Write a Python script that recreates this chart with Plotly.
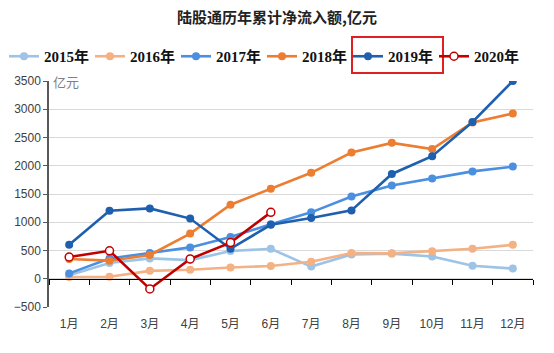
import plotly.graph_objects as go

months = ["1月", "2月", "3月", "4月", "5月", "6月", "7月", "8月", "9月", "10月", "11月", "12月"]
y2015 = [60, 280, 360, 330, 490, 530, 215, 430, 445, 395, 230, 180]
y2016 = [30, 35, 140, 160, 200, 225, 300, 455, 450, 485, 530, 600]
y2017 = [95, 360, 455, 555, 740, 965, 1175, 1455, 1650, 1775, 1900, 1985]
y2018 = [350, 320, 420, 800, 1310, 1595, 1875, 2235, 2405, 2295, 2765, 2925]
y2019 = [600, 1205, 1245, 1065, 530, 955, 1075, 1210, 1855, 2170, 2775, 3500]
y2020 = [385, 495, -180, 350, 640, 1175]

series = [
    ("2015年", y2015, "#9DC3E6"),
    ("2016年", y2016, "#F4B183"),
    ("2017年", y2017, "#4A8FE0"),
    ("2018年", y2018, "#ED7D31"),
    ("2019年", y2019, "#1E5FAE"),
]

fig = go.Figure()
for name, vals, col in series:
    fig.add_trace(go.Scatter(
        x=months[:len(vals)], y=vals, name=name, mode="lines+markers",
        line=dict(color=col, width=2.6),
        marker=dict(color=col, size=8),
    ))
fig.add_trace(go.Scatter(
    x=months[:len(y2020)], y=y2020, name="2020年", mode="lines+markers",
    line=dict(color="#C00000", width=2.6),
    marker=dict(color="white", size=8, line=dict(color="#C00000", width=1.5)),
))
# invisible trace to carry the zero-axis with boundary ticks
fig.add_trace(go.Scatter(x=months, y=[0] * len(months), xaxis="x2", mode="lines",
                         line=dict(width=0), showlegend=False, hoverinfo="skip"))

label_font = dict(family="Liberation Sans, Noto Sans CJK SC", size=12, color="#404040")

PLOT_W, PLOT_H, L, T = 484, 226, 49, 81

fig.update_layout(
    width=554, height=353,
    margin=dict(l=L, r=21, t=T, b=46, autoexpand=False),
    paper_bgcolor="white", plot_bgcolor="white",
    title=dict(text="<b>陆股通历年累计净流入额,亿元</b>", x=0.5, xanchor="center",
               y=1 - 18 / 353, yanchor="middle",
               font=dict(family="Noto Sans CJK SC", size=15, color="#222222")),
    legend=dict(orientation="h", x=-(L - 4) / PLOT_W, xanchor="left",
                y=1 + (T - 40) / PLOT_H, yanchor="top",
                entrywidth=41, entrywidthmode="pixels", bgcolor="rgba(0,0,0,0)",
                font=dict(family="Liberation Serif, Noto Sans CJK SC", size=15,
                          color="#111111", weight="bold"),
                traceorder="normal", itemwidth=30),
    showlegend=True,
    xaxis=dict(type="category", categoryorder="array", categoryarray=months,
               showgrid=False, showline=False, ticks="", tickfont=label_font,
               range=[-0.5, 11.5], ticklabelstandoff=8),
    xaxis2=dict(type="category", categoryorder="array", categoryarray=months,
                overlaying="x", anchor="free", position=0.125, matches="x",
                showgrid=False, showline=True, linecolor="#000000", linewidth=1.2,
                ticks="outside", tickson="boundaries", ticklen=5, tickcolor="#000000",
                showticklabels=False, range=[-0.5, 11.5]),
    yaxis=dict(range=[-500, 3500], dtick=500, tick0=0, showgrid=True,
               gridcolor="#D9D9D9", gridwidth=1, zeroline=False,
               showline=True, linecolor="#595959", linewidth=1.5,
               ticks="outside", ticklen=4, tickcolor="#595959",
               tickfont=label_font),
    annotations=[dict(text="亿元", xref="paper", yref="paper", x=0.0, y=1.0,
                      xanchor="left", yanchor="middle", xshift=2, showarrow=False,
                      font=dict(family="Noto Sans CJK SC", size=13, color="#7F7F7F"))],
    shapes=[dict(type="rect", xref="paper", yref="paper", x0=(352 - L) / PLOT_W, x1=(443 - L) / PLOT_W,
                 y0=1.0 + (T - 73) / PLOT_H, y1=1.0 + (T - 37) / PLOT_H,
                 line=dict(color="#E02020", width=2), fillcolor="rgba(0,0,0,0)")],
)

fig.write_html("out.html")
